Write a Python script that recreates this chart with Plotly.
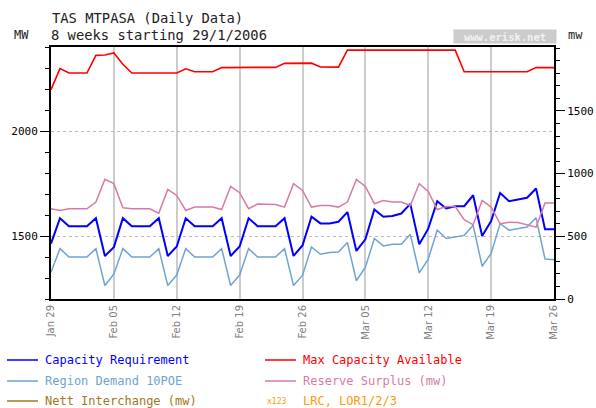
import pandas as pd
import plotly.graph_objects as go

# daily data, 29 Jan 2006 .. 26 Mar 2006
days = pd.date_range("2006-01-29", "2006-03-26", freq="D")

max_capacity = [2197, 2297, 2276, 2276, 2276, 2360, 2362, 2372, 2318, 2276,
                2276, 2276, 2276, 2276, 2276, 2296, 2282, 2282, 2282, 2302,
                2303, 2303, 2303, 2303, 2303, 2303, 2322, 2322, 2322, 2323,
                2305, 2305, 2304, 2385, 2385, 2385, 2385, 2385, 2385, 2385,
                2385, 2385, 2385, 2385, 2385, 2385, 2282, 2282, 2282, 2282,
                2282, 2282, 2282, 2282, 2302, 2302, 2302]
capacity_req = [1464, 1585, 1547, 1547, 1547, 1585, 1405, 1447, 1585, 1547,
                1547, 1547, 1585, 1405, 1450, 1585, 1547, 1547, 1547, 1585,
                1405, 1450, 1585, 1547, 1547, 1547, 1585, 1405, 1455, 1592,
                1560, 1560, 1568, 1614, 1429, 1484, 1626, 1592, 1595, 1607,
                1653, 1461, 1535, 1666, 1631, 1642, 1642, 1694, 1500, 1571,
                1705, 1666, 1674, 1682, 1726, 1532, 1532]
region_demand = [1327, 1440, 1400, 1400, 1400, 1440, 1264, 1319, 1440, 1400,
                 1400, 1400, 1440, 1264, 1314, 1440, 1400, 1400, 1400, 1440,
                 1264, 1314, 1440, 1400, 1400, 1400, 1440, 1264, 1312, 1448,
                 1413, 1421, 1424, 1469, 1287, 1351, 1488, 1453, 1461, 1461,
                 1508, 1324, 1390, 1528, 1488, 1497, 1503, 1551, 1356, 1417,
                 1559, 1528, 1536, 1543, 1587, 1390, 1387]
reserve_surplus = [720, 706, 720, 720, 720, 773, 954, 920, 728, 720,
                   720, 720, 685, 874, 826, 706, 733, 733, 733, 714,
                   898, 848, 720, 758, 756, 754, 733, 920, 866, 733,
                   746, 746, 733, 773, 954, 898, 760, 786, 773, 773,
                   746, 920, 858, 714, 738, 738, 632, 592, 786, 733,
                   600, 613, 610, 594, 573, 765, 765]

week_ticks = ["2006-01-29", "2006-02-05", "2006-02-12", "2006-02-19", "2006-02-26",
              "2006-03-05", "2006-03-12", "2006-03-19", "2006-03-26"]
week_labels = ["Jan 29", "Feb 05", "Feb 12", "Feb 19", "Feb 26",
               "Mar 05", "Mar 12", "Mar 19", "Mar 26"]
mw_ticks = [0, 500, 1000, 1500]

W, H = 596, 408
L, R, T, B = 51, 554, 47, 299
MONO = "DejaVu Sans Mono"


def px(x, y):
    # pixel position -> paper coords
    return (x - L) / (R - L), (B - y) / (B - T)


fig = go.Figure()
fig.add_trace(go.Scatter(x=days, y=region_demand, mode="lines",
                         line=dict(color="#6fa3d6", width=1.5)))
fig.add_trace(go.Scatter(x=days, y=capacity_req, mode="lines",
                         line=dict(color="#0000ff", width=2)))
fig.add_trace(go.Scatter(x=days, y=max_capacity, mode="lines",
                         line=dict(color="#ff0000", width=1.6)))
fig.add_trace(go.Scatter(x=days, y=reserve_surplus, mode="lines", yaxis="y2",
                         line=dict(color="#d87aa8", width=1.5)))

fig.update_layout(
    width=W, height=H,
    margin=dict(l=L, r=W - R, t=T, b=H - B),
    paper_bgcolor="white", plot_bgcolor="white",
    showlegend=False,
    xaxis=dict(
        range=["2006-01-29", "2006-03-26"],
        tickvals=week_ticks, ticktext=week_labels, tickangle=-90,
        tickfont=dict(family="DejaVu Sans", size=10, color="#808080"),
        showgrid=True, gridcolor="#cccccc", gridwidth=1.5,
        showline=True, linecolor="black", linewidth=2, mirror=True,
        ticks="", zeroline=False, automargin=False,
    ),
    yaxis=dict(
        range=[1200, 2400], dtick=500, tick0=0,
        tickfont=dict(family=MONO, size=11, color="black"),
        showgrid=True, gridcolor="#bbbbbb", griddash="dot", gridwidth=1,
        showline=True, linecolor="black", linewidth=2,
        ticks="outside", ticklen=9, tickcolor="black",
        minor=dict(dtick=100, ticks="outside", ticklen=4, tickcolor="black", showgrid=False),
        zeroline=False, automargin=False,
    ),
    yaxis2=dict(
        range=[0, 2010], tickvals=mw_ticks, overlaying="y", side="right",
        tickfont=dict(family=MONO, size=11, color="black"),
        showgrid=False,
        showline=True, linecolor="black", linewidth=2,
        ticks="outside", ticklen=9, tickcolor="black",
        minor=dict(dtick=100, ticks="outside", ticklen=4, tickcolor="black"),
        zeroline=False, automargin=False,
    ),
)

# titles and units
for text, x, y in [("TAS MTPASA (Daily Data)", 50, 18.5),
                   ("8 weeks starting 29/1/2006", 49, 35)]:
    xp, yp = px(x, y)
    fig.add_annotation(text=text, x=xp, y=yp, xref="paper", yref="paper",
                       xanchor="left", yanchor="middle", showarrow=False,
                       font=dict(family=MONO, size=13.8, color="#222222"))
for text, x in [("MW", 12), ("mw", 566)]:
    xp, yp = px(x, 35)
    fig.add_annotation(text=text, x=xp, y=yp, xref="paper", yref="paper",
                       xanchor="left", yanchor="middle", showarrow=False,
                       font=dict(family=MONO, size=12, color="#222222"))

# watermark box
xw, yw = px(505, 36.5)
fig.add_annotation(text="<b>www.erisk.net</b>", x=xw, y=yw, xref="paper", yref="paper",
                   xanchor="center", yanchor="middle",
                   showarrow=False, bgcolor="#cccccc", borderpad=1, width=100, height=11,
                   font=dict(family=MONO, size=10.5, color="#f2f2f2"))

# legend drawn by hand, two columns
legend_rows = [
    ("Capacity Requirement", "#0000ff", 7, 360),
    ("Region Demand 10POE", "#6fa3d6", 7, 381),
    ("Nett Interchange (mw)", "#a07822", 7, 401),
    ("Max Capacity Available", "#ff0000", 265, 360),
    ("Reserve Surplus (mw)", "#d87aa8", 265, 381),
]
for name, color, x, y in legend_rows:
    xa, ya = px(x, y)
    xb, _ = px(x + 31, y)
    fig.add_shape(type="line", xref="paper", yref="paper", x0=xa, x1=xb, y0=ya, y1=ya,
                  line=dict(color=color, width=1.5))
    xt, _ = px(x + 36, y)
    fig.add_annotation(text=name, x=xt, y=ya, xref="paper", yref="paper",
                       xanchor="left", yanchor="middle", showarrow=False,
                       font=dict(family=MONO, size=12, color=color))
xa, ya = px(265, 402)
fig.add_annotation(text="x123", x=xa, y=ya, xref="paper", yref="paper",
                   xanchor="left", yanchor="middle", showarrow=False,
                   font=dict(family=MONO, size=8, color="#ff9900"))
xt, ya = px(301, 401)
fig.add_annotation(text="LRC, LOR1/2/3", x=xt, y=ya, xref="paper", yref="paper",
                   xanchor="left", yanchor="middle", showarrow=False,
                   font=dict(family=MONO, size=12, color="#ff9900"))

# page body has a default 8px margin; drop it so the figure sits at 0,0
fig.write_html("out.html", config={"displayModeBar": False},
               post_script="document.body.style.margin='0px';")
